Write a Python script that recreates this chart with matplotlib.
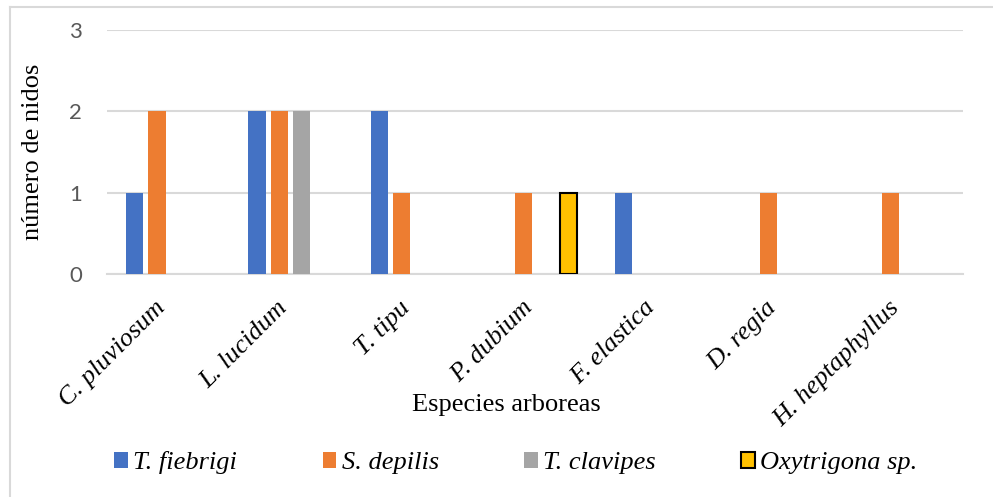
import matplotlib
matplotlib.use("Agg")
import matplotlib.pyplot as plt
import matplotlib.transforms as mtransforms
from matplotlib.lines import Line2D
from matplotlib.patches import Patch
import numpy as np

categories = ["C. pluviosum", "L. lucidum", "T. tipu", "P. dubium", "F. elastica", "D. regia", "H. heptaphyllus"]
series_names = ["T. fiebrigi", "S. depilis", "T. clavipes", "Oxytrigona sp."]
t_fiebrigi = [1, 2, 2, 0, 1, 0, 0]
s_depilis = [2, 2, 1, 1, 0, 1, 1]
t_clavipes = [0, 2, 0, 0, 0, 0, 0]
oxytrigona = [0, 0, 0, 1, 0, 0, 0]
yticks = [0, 1, 2, 3]

colors = ["#4472C4", "#ED7D31", "#A5A5A5", "#FFC000"]
edges = [None, None, None, "black"]
series = [t_fiebrigi, s_depilis, t_clavipes, oxytrigona]

W, H = 993, 497
fig = plt.figure(figsize=(W / 100, H / 100), dpi=100)
ax = fig.add_axes([107 / W, 1 - 274 / H, (963 - 107) / W, (274 - 30) / H])

x = np.arange(len(categories))
width = 0.14
step = 0.182
for i, (vals, c, e) in enumerate(zip(series, colors, edges)):
    pos = x + (i - 1.5) * step
    if e:
        ecs = [e if v > 0 else "none" for v in vals]
        ax.bar(pos, vals, width=width, color=c, edgecolor=ecs, linewidth=1.5, zorder=3)
    else:
        ax.bar(pos, vals, width=width, color=c, zorder=3)

ax.set_xlim(-0.5, len(categories) - 0.5)
ax.set_ylim(0, 3)
ax.set_yticks(yticks)
ax.set_yticklabels([str(v) for v in yticks], fontfamily="Lato", fontsize=16, color="#595959")
ax.yaxis.grid(True, color="#d9d9d9", linewidth=1.5, zorder=0)
ax.tick_params(axis="y", length=0, pad=18)
ax.tick_params(axis="x", length=0, pad=22)
for s in ["top", "right", "left"]:
    ax.spines[s].set_visible(False)
ax.spines["bottom"].set_color("#d9d9d9")
ax.spines["bottom"].set_linewidth(1.5)
ax.set_xticks(x)
ax.set_xticklabels(categories, rotation=45, ha="right", va="center", rotation_mode="anchor",
                   fontfamily="Liberation Serif", fontstyle="italic", fontsize=19)
shift = mtransforms.ScaledTranslation(-6 / 100, 0, fig.dpi_scale_trans)
for lab in ax.get_xticklabels():
    lab.set_transform(lab.get_transform() + shift)

fig.text(33 / W, 1 - 152 / H, "número de nidos", rotation=90, ha="center", va="center",
         fontfamily="Liberation Serif", fontsize=19)
fig.text(506 / W, 1 - 405 / H, "Especies arboreas", ha="center", va="center",
         fontfamily="Liberation Serif", fontsize=19)

handles = [Patch(facecolor=c, edgecolor=(e if e else c), linewidth=(1.5 if e else 0)) for c, e in zip(colors, edges)]
leg = fig.legend(handles, series_names, loc="center", bbox_to_anchor=(516 / W, 1 - 463 / H),
                 ncol=4, frameon=False, handlelength=0.52, handleheight=0.52, handletextpad=0.2,
                 columnspacing=3.24, prop={"family": "Liberation Serif", "style": "italic", "size": 19})

# chart-area border (top and left edges visible in the reference)
fig.add_artist(Line2D([10 / W, 10 / W], [0, 1 - 7 / H], transform=fig.transFigure,
                      color="#d9d9d9", linewidth=1.5))
fig.add_artist(Line2D([10 / W, 1], [1 - 7 / H, 1 - 7 / H], transform=fig.transFigure,
                      color="#d9d9d9", linewidth=1.5))

fig.savefig("out.png", dpi=100)
